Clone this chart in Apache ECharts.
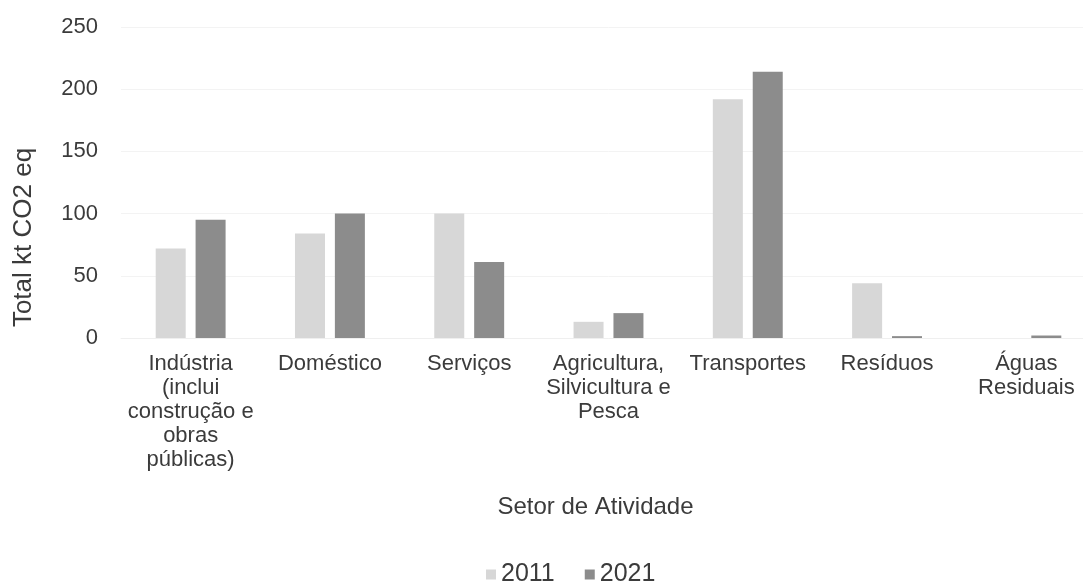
<!DOCTYPE html>
<html>
<head>
<meta charset="utf-8">
<script src="https://cdn.jsdelivr.net/npm/echarts@6/dist/echarts.min.js"></script>
<style>
html,body{margin:0;padding:0;background:#fff;overflow:hidden;width:1083px;height:583px;}
#chart{width:1100px;height:583px;}
</style>
</head>
<body>
<div id="chart"></div>
<script>
const categories = [
  'Indústria\n(inclui\nconstrução e\nobras\npúblicas)',
  'Doméstico',
  'Serviços',
  'Agricultura,\nSilvicultura e\nPesca',
  'Transportes',
  'Resíduos',
  'Águas\nResiduais'
];
const seriesNames = ['2011', '2021'];
const values2011 = [72, 84, 100, 13, 192, 44, 0];
const values2021 = [95, 100, 61, 20, 214, 1.5, 2];
const yTicks = { min: 0, max: 250, interval: 50 };

const font = 'Liberation Sans, Arial, sans-serif';
const textColor = '#3b3b3b';
const chart = echarts.init(document.getElementById('chart'), null, {renderer: 'canvas'});
chart.setOption({
  animation: false,
  backgroundColor: '#ffffff',
  textStyle: { fontFamily: font, color: textColor },
  grid: { left: 121, top: 27, width: 975, height: 311, containLabel: false },
  legend: {
    data: seriesNames,
    left: 481, top: 557,
    icon: 'rect', itemWidth: 10, itemHeight: 10, itemGap: 30,
    textStyle: { fontSize: 25, color: textColor, fontFamily: font }
  },
  xAxis: {
    type: 'category',
    data: categories,
    name: 'Setor de Atividade',
    nameLocation: 'middle',
    nameGap: 157,
    nameTextStyle: { fontSize: 24, color: textColor, fontFamily: font, padding: [0, 26, 0, 0] },
    axisLine: { show: true, lineStyle: { color: '#efefef', width: 1 } },
    axisTick: { show: false },
    axisLabel: { interval: 0, fontSize: 22, lineHeight: 24, color: textColor, margin: 14, fontFamily: font }
  },
  yAxis: {
    type: 'value',
    min: yTicks.min, max: yTicks.max, interval: yTicks.interval,
    name: 'Total kt CO2 eq',
    nameLocation: 'middle',
    nameGap: 84,
    nameRotate: 90,
    nameTextStyle: { fontSize: 26, color: textColor, fontFamily: font, padding: [0, 0, 0, -110] },
    axisLine: { show: false },
    axisTick: { show: false },
    splitLine: { lineStyle: { color: '#f3f3f3', width: 1 } },
    axisLabel: { fontSize: 22, color: textColor, margin: 23, fontFamily: font }
  },
  series: [
    { name: seriesNames[0], type: 'bar', data: values2011, barWidth: 30, barGap: '33%',
      itemStyle: { color: '#d7d7d7' } },
    { name: seriesNames[1], type: 'bar', data: values2021, barWidth: 30,
      itemStyle: { color: '#8c8c8c' } }
  ]
});
</script>
</body>
</html>
